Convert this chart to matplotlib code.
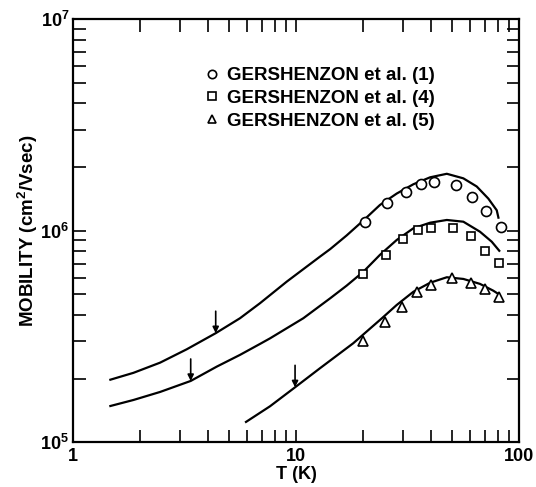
import numpy as np
import matplotlib
matplotlib.use("Agg")
import matplotlib.pyplot as plt
from matplotlib.ticker import LogLocator, NullFormatter, FixedLocator, FixedFormatter
from matplotlib.lines import Line2D

plt.rcParams['font.family'] = ['Liberation Sans', 'DejaVu Sans']
plt.rcParams['font.weight'] = 'bold'
plt.rcParams['axes.labelweight'] = 'bold'
plt.rcParams['mathtext.fontset'] = 'custom'
plt.rcParams['mathtext.rm'] = 'Liberation Sans:bold'
plt.rcParams['mathtext.bf'] = 'Liberation Sans:bold'
plt.rcParams['mathtext.default'] = 'rm'

# measured points (T in K, mobility in cm2/Vsec)
t_circ = [20.3, 25.6, 31.0, 36.2, 41.5, 51.8, 61.2, 70.9, 82.5]
mu_circ = [1.097e6, 1.349e6, 1.53e6, 1.66e6, 1.71e6, 1.65e6, 1.45e6, 1.245e6, 1.04e6]

t_sq = [20.0, 25.3, 30.2, 35.2, 40.2, 50.3, 60.7, 70.2, 81.1]
mu_sq = [6.25e5, 7.69e5, 9.12e5, 1.009e6, 1.034e6, 1.028e6, 9.45e5, 8.05e5, 7.07e5]

t_tri = [20.0, 25.1, 29.7, 34.9, 40.2, 49.8, 60.5, 70.2, 81.3]
mu_tri = [3.02e5, 3.71e5, 4.38e5, 5.14e5, 5.54e5, 6.0e5, 5.68e5, 5.29e5, 4.88e5]

# calculated curves
t_c1 = [1.45, 1.86, 2.45, 3.22, 4.35, 5.59, 6.88, 9.06, 12.77, 14.2, 16.8, 20.0, 23.7, 28.2,
        33.5, 39.8, 47.3, 56.1, 64.4, 72.6, 79.2, 80.8]
mu_c1 = [1.97e5, 2.13e5, 2.38e5, 2.75e5, 3.28e5, 3.86e5, 4.55e5, 5.75e5, 7.55e5, 8.2e5, 9.5e5,
         1.12e6, 1.324e6, 1.50e6, 1.66e6, 1.79e6, 1.86e6, 1.77e6, 1.62e6, 1.42e6, 1.25e6, 1.14e6]

t_c2 = [1.45, 1.86, 2.45, 3.36, 4.40, 5.59, 6.88, 7.62, 10.75, 14.2, 16.8, 20.0, 23.7, 28.2,
        33.5, 39.8, 47.3, 56.1, 66.6, 75.2, 81.9]
mu_c2 = [1.48e5, 1.585e5, 1.73e5, 1.95e5, 2.28e5, 2.59e5, 2.92e5, 3.1e5, 3.86e5, 4.80e5, 5.5e5,
         6.41e5, 7.69e5, 9.05e5, 1.028e6, 1.092e6, 1.125e6, 1.104e6, 9.9e5, 8.88e5, 7.97e5]

t_c3 = [5.89, 7.62, 9.87, 12.77, 18.0, 24.2, 28.2, 33.5, 39.8, 47.3, 56.1, 66.6, 76.4, 81.9]
mu_c3 = [1.24e5, 1.48e5, 1.82e5, 2.24e5, 2.94e5, 3.86e5, 4.46e5, 5.15e5, 5.68e5, 6.03e5, 5.92e5,
         5.61e5, 5.21e5, 4.97e5]

# arrow positions on the curves
t_arrow = [4.35, 3.36, 9.87]
mu_arrow = [3.28e5, 1.95e5, 1.82e5]

labels = ['GERSHENZON et al. (1)', 'GERSHENZON et al. (4)', 'GERSHENZON et al. (5)']

fig = plt.figure(figsize=(5.36, 4.87), dpi=100)
ax = fig.add_axes([0.1368, 0.0918, 0.8321, 0.8686])
ax.set_xscale('log')
ax.set_yscale('log')
ax.set_xlim(1, 100)
ax.set_ylim(1e5, 1e7)

for t, mu in [(t_c1, mu_c1), (t_c2, mu_c2), (t_c3, mu_c3)]:
    ax.plot(t, mu, color='black', lw=1.6, solid_capstyle='butt', solid_joinstyle='round')

mk = dict(ls='none', mfc='white', mec='black', mew=1.2)
ax.plot(t_circ, mu_circ, marker='o', ms=7.2, **mk)
ax.plot(t_sq, mu_sq, marker='s', ms=6.4, **mk)
ax.plot(t_tri, mu_tri, marker='^', ms=7.4, **mk)

for t, mu in zip(t_arrow, mu_arrow):
    ax.annotate('', xy=(t, mu), xytext=(t, mu * 1.27),
                arrowprops=dict(arrowstyle='-|>', color='black', lw=1.2,
                                mutation_scale=9, shrinkA=0, shrinkB=0))

handles = [Line2D([], [], marker=m, ms=s, **mk) for m, s in [('o', 6), ('s', 5.5), ('^', 6)]]
ax.legend(handles, labels, loc='upper left', bbox_to_anchor=(0.273, 0.905),
          frameon=False, fontsize=13.5, handletextpad=0.3, handlelength=1.0,
          labelspacing=0.3, borderaxespad=0)

ax.xaxis.set_major_locator(FixedLocator([1, 10, 100]))
ax.xaxis.set_major_formatter(FixedFormatter(['1', '10', '100']))
ax.xaxis.set_minor_locator(LogLocator(base=10, subs=np.arange(2, 10)))
ax.xaxis.set_minor_formatter(NullFormatter())
ax.yaxis.set_major_locator(FixedLocator([1e5, 1e6, 1e7]))
ax.yaxis.set_major_formatter(FixedFormatter([r'$10^5$', r'$10^6$', r'$10^7$']))
ax.yaxis.set_minor_locator(LogLocator(base=10, subs=np.arange(2, 10)))
ax.yaxis.set_minor_formatter(NullFormatter())

ax.tick_params(which='both', direction='in', top=True, right=True,
               length=9, width=1.2, labelsize=13)
ax.tick_params(axis='x', pad=4)
ax.tick_params(axis='y', pad=3)
for s in ax.spines.values():
    s.set_linewidth(1.6)

ax.set_xlabel('T (K)', fontsize=13, labelpad=1)
ax.set_ylabel(r'MOBILITY (cm$^2$/Vsec)', fontsize=13.5, labelpad=0)

fig.savefig('out.png', dpi=100)
